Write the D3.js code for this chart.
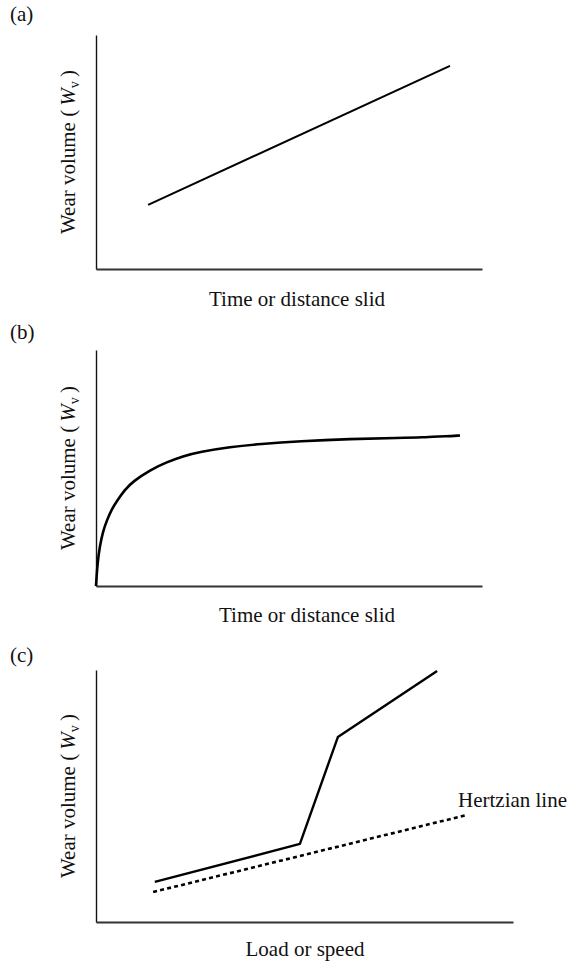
<!DOCTYPE html>
<html>
<head>
<meta charset="utf-8">
<script src="https://cdn.jsdelivr.net/npm/d3@7"></script>
<style>
  body { margin: 0; background: #fff; }
  text { font-family: "Liberation Serif", "Times New Roman", serif; fill: #111; }
</style>
</head>
<body>
<div id="chart"></div>
<script>
// Panel (a): linear wear
const linearX = [13.5, 91.7];
const linearY = [27.4, 86.8];

// Panel (b): running-in then steady wear
const runInX = [0, 0.4, 1.0, 1.8, 2.8, 4.1, 5.4, 7.5, 9.6, 14.0, 18.4, 22.5, 26.9, 34.7, 42.5, 52.8, 65.8, 78.8, 85.2, 87.0, 90.4, 94.3];
const runInY = [0, 10.0, 17.0, 23.0, 27.8, 32.6, 36.0, 40.9, 44.3, 49.2, 52.5, 55.0, 56.8, 58.9, 60.2, 61.4, 62.3, 62.7, 63.0, 63.3, 63.4, 63.8];

// Panel (c): load or speed, with transition, and the Hertzian line
const loadX = [14.1, 48.9, 58.0, 81.8];
const loadY = [15.9, 31.0, 73.4, 99.6];
const hertzX = [13.7, 89.0];
const hertzY = [11.9, 42.5];

const panelLabels = ["(a)", "(b)", "(c)"];
const xTitles = ["Time or distance slid", "Time or distance slid", "Load or speed"];

const svg = d3.select("#chart")
  .append("svg")
  .attr("width", 570)
  .attr("height", 963);

const fontSize = 21;

const panels = [
  { top: 35, bottom: 269, left: 96, right: 482, labelY: 21, titleY: 306, titleX: 297,
    series: [{ x: linearX, y: linearY, width: 2, dash: null, curve: d3.curveLinear }] },
  { top: 350, bottom: 586, left: 96, right: 482, labelY: 339, titleY: 622, titleX: 307,
    series: [{ x: runInX, y: runInY, width: 2.6, dash: null, curve: d3.curveBasis }] },
  { top: 670, bottom: 922, left: 96, right: 513, labelY: 662, titleY: 956, titleX: 305,
    series: [
      { x: loadX, y: loadY, width: 2.4, dash: null, curve: d3.curveLinear },
      { x: hertzX, y: hertzY, width: 2.6, dash: "4,3.2", curve: d3.curveLinear }
    ] }
];

panels.forEach((p, i) => {
  const x = d3.scaleLinear().domain([0, 100]).range([p.left, p.right]);
  const y = d3.scaleLinear().domain([0, 100]).range([p.bottom, p.top]);

  // Panel letter
  svg.append("text")
    .attr("x", 10)
    .attr("y", p.labelY)
    .style("font-size", fontSize + "px")
    .text(panelLabels[i]);

  // Axes (no ticks)
  svg.append("g")
    .attr("transform", `translate(0,${p.bottom})`)
    .call(d3.axisBottom(x).tickValues([]).tickSizeOuter(0))
    .select(".domain")
    .attr("stroke", "#333")
    .attr("stroke-width", 1.8);

  svg.append("g")
    .attr("transform", `translate(${p.left},0)`)
    .call(d3.axisLeft(y).tickValues([]).tickSizeOuter(0))
    .select(".domain")
    .attr("stroke", "#111")
    .attr("stroke-width", 1.4);

  // Y axis title
  const yt = svg.append("text")
    .attr("transform", `translate(75,${(p.top + p.bottom) / 2}) rotate(-90)`)
    .attr("text-anchor", "middle")
    .style("font-size", fontSize + "px");
  yt.append("tspan").text("Wear volume (\u2009");
  yt.append("tspan").style("font-style", "italic").text("W");
  yt.append("tspan").attr("dy", 4).style("font-size", "14px").text("v");
  yt.append("tspan").attr("dy", -4).text("\u2009)");

  // X axis title
  svg.append("text")
    .attr("x", p.titleX)
    .attr("y", p.titleY)
    .attr("text-anchor", "middle")
    .style("font-size", fontSize + "px")
    .text(xTitles[i]);

  // Curves
  p.series.forEach(s => {
    const pts = s.x.map((v, k) => [v, s.y[k]]);
    svg.append("path")
      .datum(pts)
      .attr("fill", "none")
      .attr("stroke", "#000")
      .attr("stroke-width", s.width)
      .attr("stroke-dasharray", s.dash)
      .attr("stroke-linejoin", "round")
      .attr("d", d3.line().x(d => x(d[0])).y(d => y(d[1])).curve(s.curve));
  });

  if (i === 2) {
    svg.append("text")
      .attr("x", 458)
      .attr("y", 807)
      .style("font-size", fontSize + "px")
      .text("Hertzian line");
  }
});
</script>
</body>
</html>
